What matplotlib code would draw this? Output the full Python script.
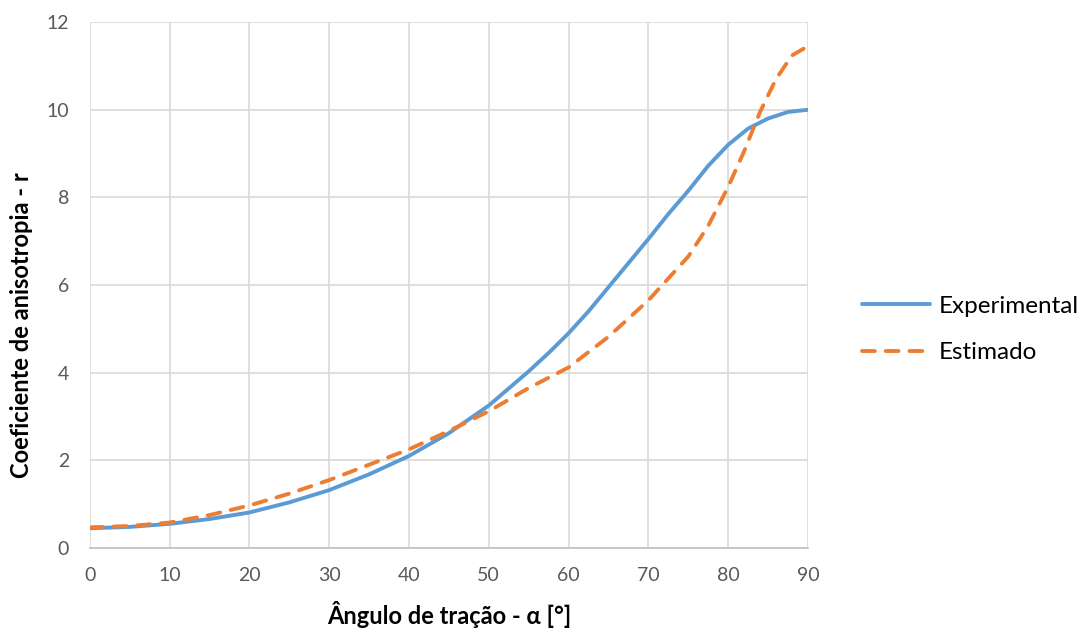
import matplotlib
matplotlib.use("Agg")
import matplotlib.pyplot as plt

# valores
ang_exp = [0, 5, 10, 15, 20, 25, 30, 35, 40, 45, 50, 55, 57.5, 60, 62.5, 65,
           67.5, 70, 72.5, 75, 77.5, 80, 82.5, 85, 87.5, 90]
r_exp = [0.45, 0.48, 0.55, 0.66, 0.81, 1.04, 1.32, 1.68, 2.1, 2.62, 3.25, 4.03,
         4.45, 4.9, 5.4, 5.95, 6.5, 7.05, 7.62, 8.15, 8.72, 9.2, 9.57, 9.8,
         9.95, 10.0]

ang_est = [0, 5, 10, 15, 20, 25, 30, 35, 40, 45, 50, 55, 60, 65, 70, 75, 77.5,
           80, 82, 84, 86, 88, 90]
r_est = [0.47, 0.5, 0.58, 0.75, 0.97, 1.24, 1.55, 1.9, 2.25, 2.67, 3.12, 3.65,
         4.12, 4.82, 5.65, 6.65, 7.35, 8.24, 9.05, 9.95, 10.7, 11.24, 11.45]

xticks = list(range(0, 91, 10))
yticks = list(range(0, 13, 2))

plt.rcParams["font.family"] = ["Lato", "DejaVu Sans"]

fig = plt.figure(figsize=(10.83, 6.32), dpi=100)
ax = fig.add_axes([0.083, 0.133, 0.663, 0.832])

ax.plot(ang_exp, r_exp, color="#5b9bd5", lw=2.8, label="Experimental",
        solid_capstyle="round", solid_joinstyle="round")
ax.plot(ang_est, r_est, color="#ed7d31", lw=2.8, ls=(0, (3.3, 2.8)),
        label="Estimado", dash_capstyle="round", dash_joinstyle="round")

ax.set_xlim(0, 90)
ax.set_ylim(0, 12)
ax.set_xticks(xticks)
ax.set_yticks(yticks)
ax.grid(True, color="#d9d9d9", lw=1.2)
ax.set_axisbelow(True)
for s in ("top", "right", "left"):
    ax.spines[s].set_visible(False)
ax.spines["bottom"].set_color("#bfbfbf")
ax.spines["bottom"].set_linewidth(1.2)
ax.tick_params(length=0, labelsize=14, labelcolor="#595959")
ax.tick_params(axis="y", pad=15)
ax.tick_params(axis="x", pad=14)

ax.set_xlabel("Ângulo de tração - α [°]", fontsize=17, fontweight="bold", labelpad=12)
ax.set_ylabel("Coeficiente de anisotropia - r", fontsize=17, fontweight="bold")
ax.yaxis.set_label_coords(-0.079, 0.424)

ax.legend(loc="center left", bbox_to_anchor=(0.796, 0.479),
          bbox_transform=fig.transFigure, frameon=False, borderpad=0,
          borderaxespad=0, fontsize=17.5, handlelength=2.8, labelspacing=1.05,
          handletextpad=0.35)

fig.savefig("out.png", dpi=100)
